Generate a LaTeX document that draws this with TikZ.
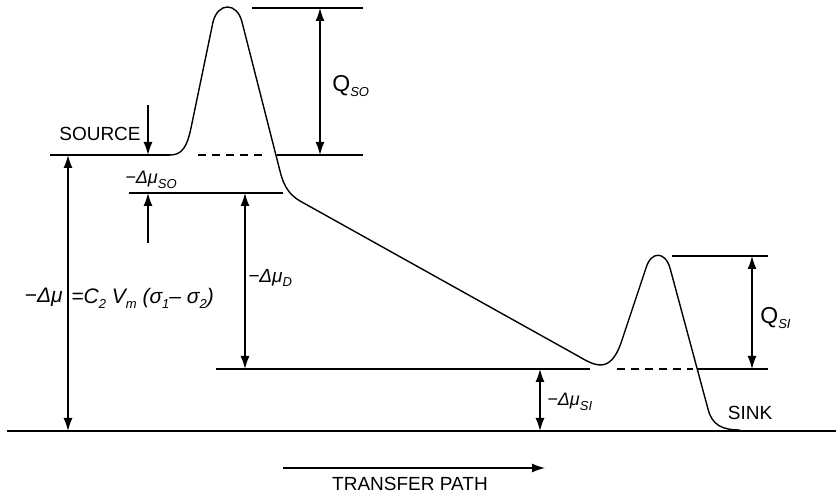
\documentclass[tikz,border=0pt]{standalone}
\usepackage{fontspec}
\setmainfont{Liberation Sans}
\usetikzlibrary{arrows.meta}
\newcommand{\sbs}[1]{\raisebox{-0.45ex}{\fontsize{6.5}{6.5}\selectfont\itshape #1}}
\begin{document}
\begin{tikzpicture}[x=0.5pt,y=-0.5pt,
  ln/.style={line width=0.7pt},
  dsh/.style={line width=0.7pt,dash pattern=on 4pt off 3pt},
  dim/.style={line width=0.7pt,{Latex[length=6.5pt,width=4.5pt]}-{Latex[length=6.5pt,width=4.5pt]}},
  arr/.style={line width=0.7pt,-{Latex[length=6.5pt,width=4.5pt]}},
  lbl/.style={inner sep=0pt,font=\fontsize{9.5}{11}\selectfont},
  mlbl/.style={inner sep=0pt,font=\fontsize{9}{10}\selectfont\itshape}]
\useasboundingbox (0,0) rectangle (836,496);
% coordinates
\coordinate (b0) at (7,431);   \coordinate (b1) at (836,431);
\coordinate (s0) at (50,155);  \coordinate (s1) at (170,155);
\coordinate (sd0) at (198,155); \coordinate (sd1) at (266,155);
\coordinate (sr0) at (277,155); \coordinate (sr1) at (363,155);
\coordinate (st0) at (252,8);  \coordinate (st1) at (363,8);
\coordinate (so0) at (129,193); \coordinate (so1) at (283,193);
\coordinate (k0) at (216,369); \coordinate (k1) at (590,369);
\coordinate (kd0) at (617,369); \coordinate (kd1) at (693,369);
\coordinate (kr0) at (697,369); \coordinate (kr1) at (768,369);
\coordinate (kt0) at (672,256); \coordinate (kt1) at (768,256);
\coordinate (qso0) at (320,8); \coordinate (qso1) at (320,155);
\coordinate (qsi0) at (752,256); \coordinate (qsi1) at (752,369);
\coordinate (big0) at (68,155); \coordinate (big1) at (68,431);
\coordinate (dd0) at (245,193); \coordinate (dd1) at (245,369);
\coordinate (si0) at (540,369); \coordinate (si1) at (540,431);
\coordinate (sa0) at (148,105); \coordinate (sa1) at (148,155);
\coordinate (ua0) at (148,243); \coordinate (ua1) at (148,193);
\coordinate (tp0) at (283,468); \coordinate (tp1) at (545,468);
% levels
\draw[ln] (b0) -- (b1);
\draw[ln] (s0) -- (s1);
\draw[dsh] (sd0) -- (sd1);
\draw[ln] (sr0) -- (sr1);
\draw[ln] (st0) -- (st1);
\draw[ln] (so0) -- (so1);
\draw[ln] (k0) -- (k1);
\draw[dsh] (kd0) -- (kd1);
\draw[ln] (kr0) -- (kr1);
\draw[ln] (kt0) -- (kt1);
% energy profile
\draw[ln] (170,155) .. controls (182,155) and (187,147) .. (191,128)
  -- (213,22) .. controls (218,2) and (237,2) .. (242,22)
  -- (281,175) .. controls (285,188) and (290,195) .. (300,201)
  -- (578,356) .. controls (595,366) and (610,374) .. (621,343)
  -- (646,268) .. controls (651,251) and (665,251) .. (670,268)
  -- (708,409) .. controls (712,425) and (722,430) .. (740,430);
% dimension arrows
\draw[dim] (qso0) -- (qso1);
\draw[dim] (qsi0) -- (qsi1);
\draw[dim] (big0) -- (big1);
\draw[dim] (dd0) -- (dd1);
\draw[dim] (si0) -- (si1);
\draw[arr] (sa0) -- (sa1);
\draw[arr] (ua0) -- (ua1);
\draw[arr] (tp0) -- (tp1);
% labels
\node[lbl] (source) at (100,134) {SOURCE};
\node[lbl] (sink) at (750,413) {SINK};
\node[lbl] (transfer) at (410,484) {TRANSFER PATH};
\node[lbl,font=\fontsize{11.5}{12}\selectfont,anchor=west] (qso) at (332,86) {Q\sbs{SO}};
\node[lbl,font=\fontsize{11.5}{12}\selectfont,anchor=west] (qsi) at (760,318) {Q\sbs{SI}};
\node[mlbl,anchor=west] (lso) at (125,180) {−Δμ\sbs{SO}};
\node[mlbl,anchor=west,font=\fontsize{9.5}{10}\selectfont\itshape] (ld) at (248,278) {−Δμ\sbs{D}};
\node[mlbl,anchor=west] (lsi) at (547,402) {−Δμ\sbs{SI}};
\node[mlbl,anchor=east,font=\fontsize{10.5}{12}\selectfont\itshape] (lbig) at (63,297) {−Δμ};
\node[mlbl,anchor=west,font=\fontsize{10.5}{12}\selectfont\itshape] (form) at (71,298) {=C\sbs{2} V\sbs{m} (σ\sbs{1}– σ\sbs{2})};
\end{tikzpicture}
\end{document}
